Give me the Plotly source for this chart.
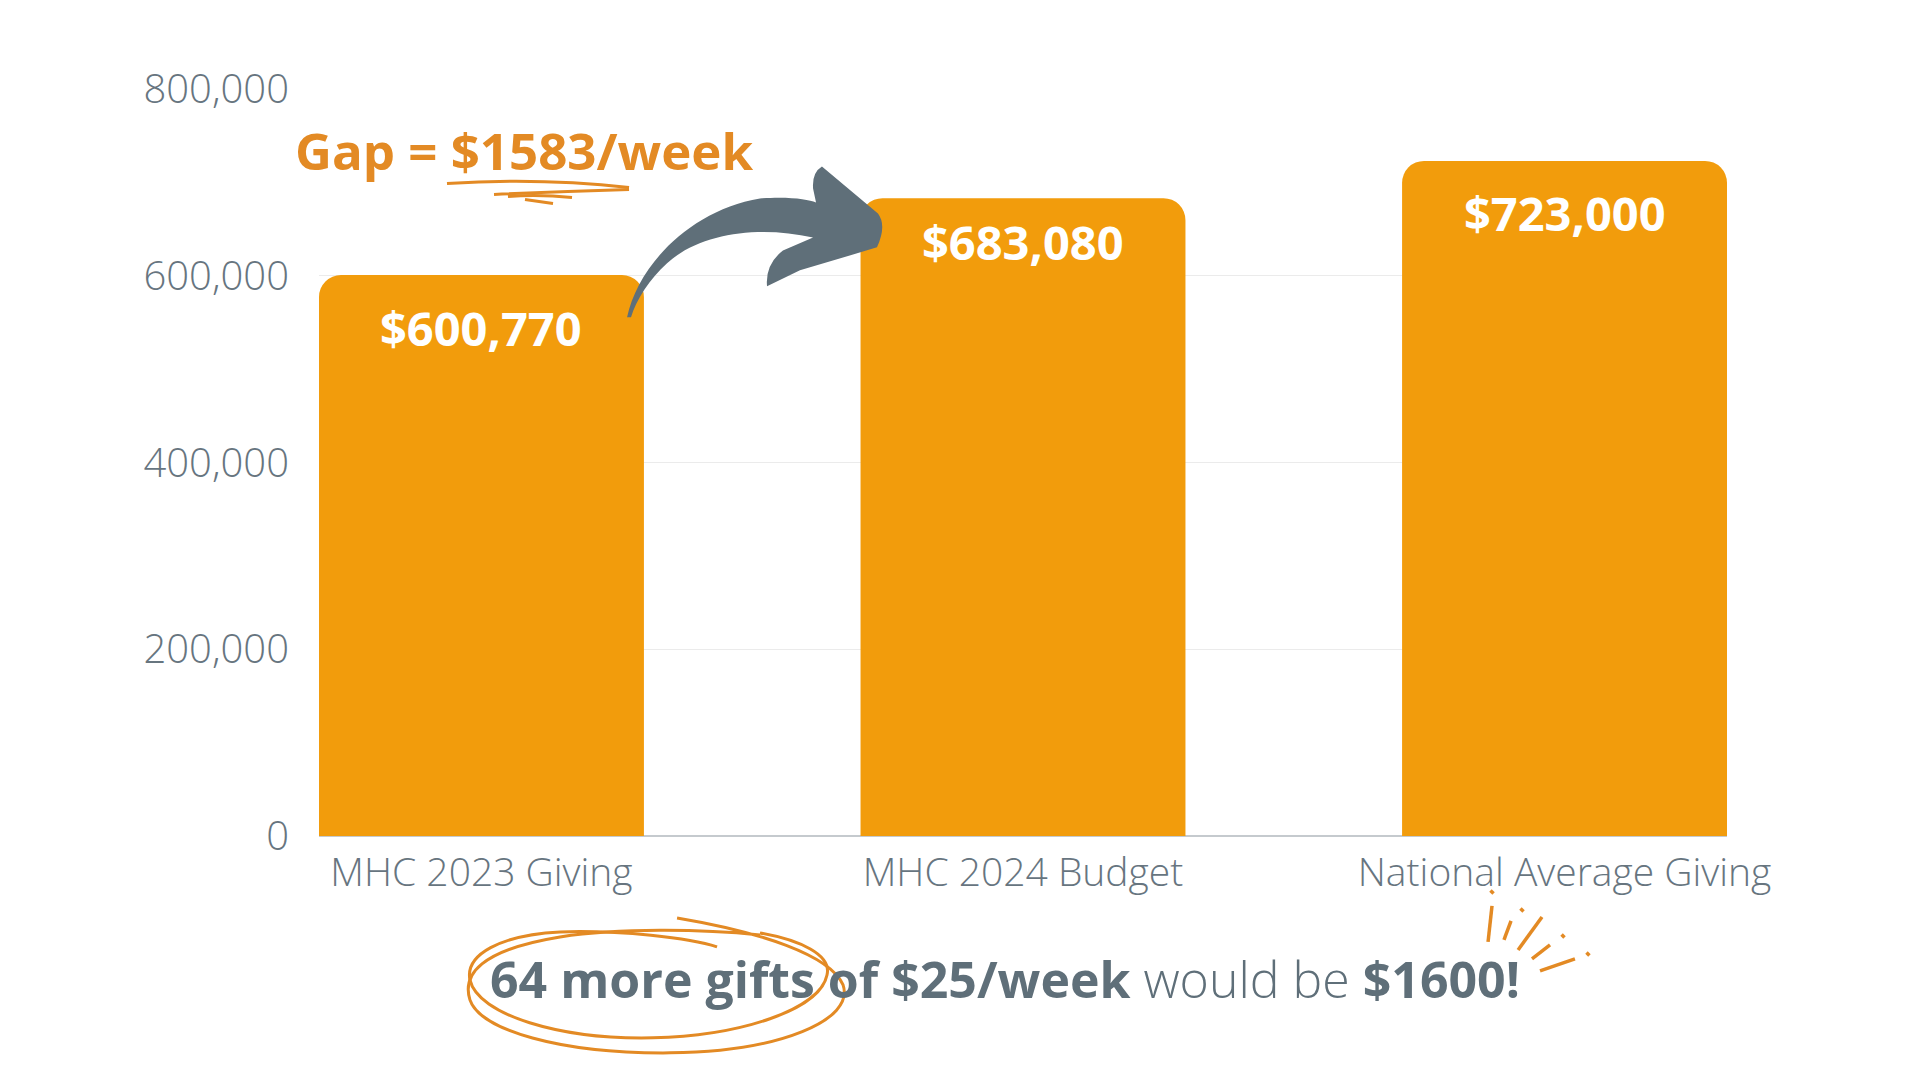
import plotly.graph_objects as go

# data
categories = ["MHC 2023 Giving", "MHC 2024 Budget", "National Average Giving"]
giving = [600770, 683080, 723000]
y_ticks = [0, 200000, 400000, 600000, 800000]
gap_text = "Gap = $1583/week"
bottom_bold = "64 more gifts of $25/week"
bottom_light = " would be "
bottom_end = "$1600!"

BAR = "#F29C0C"
ORANGE = "#E38A24"
SLATE = "#5F6F79"
TICK = "#67757F"

# plot area in screen pixels (1920x1080); the page body adds an 8px margin
L, R, T, B = 319, 1727, 88.5, 836
W, H = R - L, B - T
OFF = 8
FW, FH = 1920 - 2 * OFF, 1080 - 2 * OFF


def px(x, y):
    return f"{(x - L) / W:.4f},{(B - y) / H:.4f}"


def path(cmds):
    return " ".join(c if isinstance(c, str) else px(*c) for c in cmds)


fig = go.Figure(go.Bar(
    x=categories, y=giving, width=0.6,
    marker=dict(color=BAR, line=dict(width=0)),
    hoverinfo="skip",
))

# value labels inside the bars
label_shift = [-53, -44, -52]
for c, v, s in zip(categories, giving, label_shift):
    fig.add_annotation(x=c, y=v, yshift=s, text=f"${v:,}", showarrow=False,
                       font=dict(family="Open Sans", size=47, color="white", weight=700),
                       yanchor="middle")

# headline and footer text
fig.add_annotation(xref="paper", yref="paper", x=(524 - L) / W, y=(B - 150) / H,
                   text=gap_text, showarrow=False, xanchor="center", yanchor="middle",
                   font=dict(family="Open Sans", size=51, color=ORANGE, weight=700))
fig.add_annotation(xref="paper", yref="paper", x=(1005 - L) / W, y=(B - 979) / H,
                   text=(f"<b>{bottom_bold}</b><span style='font-weight:300'>{bottom_light}</span>"
                         f"<b>{bottom_end}</b>"),
                   showarrow=False, xanchor="center", yanchor="middle",
                   font=dict(family="Open Sans", size=50, color=SLATE))

shapes = []
# curved arrow from the 2023 bar to the 2024 bar
arrow = path(["M", (627, 317),
              "C", (638, 265), (690, 210), (760, 198),
              "C", (790, 196), (808, 199), (816, 202),
              "L", (813, 188),
              "Q", (812, 172), (822, 166),
              "L", (878, 213),
              "Q", (887, 225), (877, 247),
              "L", (800, 270), "L", (767, 286),
              "Q", (765, 264), (783, 250),
              "L", (813, 237),
              "C", (760, 225), (700, 232), (667, 263),
              "C", (650, 278), (636, 300), (631, 317), "Z"])
shapes.append(dict(type="path", xref="paper", yref="paper", path=arrow,
                   fillcolor=SLATE, line=dict(width=0), layer="above"))

# scribbled underline
for seg in [["M", (447, 183), "Q", (540, 177), (629, 187)],
            ["M", (629, 189), "Q", (560, 191), (494, 194)],
            ["M", (508, 196), "Q", (540, 194), (572, 197)],
            ["M", (525, 199), "L", (553, 203)]]:
    shapes.append(dict(type="path", xref="paper", yref="paper", path=path(seg),
                       line=dict(color=ORANGE, width=3)))

# hand drawn loops around "64 more gifts"
loops = [
    ["M", (677, 918), "C", (760, 932), (830, 955), (843, 985),
     "C", (855, 1020), (780, 1052), (670, 1053),
     "C", (560, 1054), (480, 1030), (470, 1000),
     "C", (462, 975), (480, 950), (560, 937),
     "C", (620, 928), (700, 929), (760, 935)],
    ["M", (717, 947), "C", (690, 938), (620, 930), (560, 932),
     "C", (500, 935), (465, 955), (470, 980),
     "C", (478, 1015), (560, 1040), (653, 1038),
     "C", (740, 1036), (820, 1010), (827, 975),
     "C", (832, 955), (800, 940), (760, 933)],
]
for seg in loops:
    shapes.append(dict(type="path", xref="paper", yref="paper", path=path(seg),
                       line=dict(color=ORANGE, width=3)))

# sparkle strokes next to "$1600!"
for (x0, y0, x1, y1) in [(1492, 906, 1488, 942), (1511, 921, 1504, 940),
                         (1542, 917, 1518, 950), (1550, 945, 1532, 959),
                         (1575, 959, 1540, 971)]:
    shapes.append(dict(type="path", xref="paper", yref="paper",
                       path=path(["M", (x0, y0), "L", (x1, y1)]),
                       line=dict(color=ORANGE, width=3.5)))
for (x0, y0) in [(1492, 892), (1522, 910), (1563, 936), (1588, 954)]:
    shapes.append(dict(type="path", xref="paper", yref="paper",
                       path=path(["M", (x0 - 1.5, y0 - 1.5), "L", (x0 + 1.5, y0 + 1.5)]),
                       line=dict(color=ORANGE, width=3.5)))

fig.update_layout(
    width=FW, height=FH,
    margin=dict(l=L - OFF, r=FW - (R - OFF), t=T - OFF, b=FH - (B - OFF)),
    paper_bgcolor="white", plot_bgcolor="white",
    showlegend=False,
    barcornerradius=22,
    shapes=shapes,
    xaxis=dict(range=[-0.3, 2.3], showgrid=False, showline=False,
               tickfont=dict(family="Open Sans", size=39, color=TICK, weight=300),
               ticklabelstandoff=10, fixedrange=True),
    yaxis=dict(range=[0, 800000], tickvals=y_ticks, tickformat=",d",
               showgrid=True, gridcolor="#EBEBEB", gridwidth=1.2,
               zeroline=True, zerolinecolor="#C5CACE", zerolinewidth=1.5,
               tickfont=dict(family="Open Sans", size=40, color=TICK, weight=300),
               ticklabelstandoff=29, fixedrange=True),
)

fig.write_html("out.html")
